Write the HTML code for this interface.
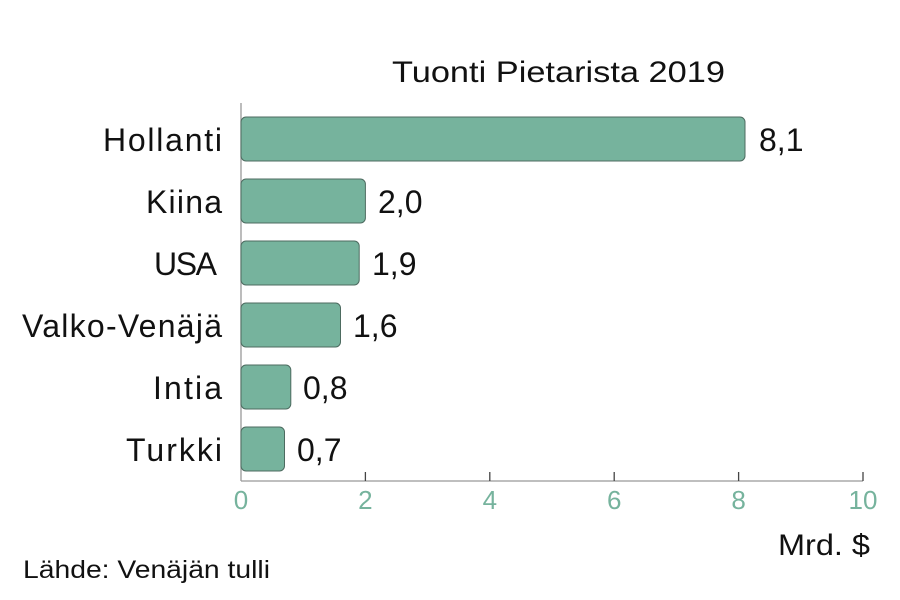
<!DOCTYPE html><html><head><meta charset="utf-8"><style>body{margin:0;background:#fff}svg{display:block}text{font-family:"Liberation Sans",sans-serif}</style></head><body>
<svg width="900" height="600" viewBox="0 0 900 600">
<text x="392" y="82" font-size="30" fill="#111" textLength="333" lengthAdjust="spacingAndGlyphs">Tuonti Pietarista 2019</text>
<line x1="241" y1="103" x2="241" y2="481" stroke="#999" stroke-width="1.3"/>
<line x1="241" y1="481" x2="863" y2="481" stroke="#999" stroke-width="1.3"/>
<g stroke="#444" stroke-width="1.3">
<line x1="365.4" y1="472" x2="365.4" y2="481"/><line x1="489.8" y1="472" x2="489.8" y2="481"/><line x1="614.2" y1="472" x2="614.2" y2="481"/><line x1="738.6" y1="472" x2="738.6" y2="481"/><line x1="863" y1="472" x2="863" y2="481"/>
</g>
<g fill="#76b39d" font-size="26" text-anchor="middle">
<text x="241" y="509">0</text><text x="365.4" y="509">2</text><text x="489.8" y="509">4</text><text x="614.2" y="509">6</text><text x="738.6" y="509">8</text><text x="863" y="509">10</text>
</g>
<g fill="#76b39d" stroke="#4d6b60" stroke-width="1">
<rect x="241" y="117" width="504" height="44" rx="5"/>
<rect x="241" y="179" width="124.4" height="44" rx="5"/>
<rect x="241" y="241" width="118.2" height="44" rx="5"/>
<rect x="241" y="303" width="99.5" height="44" rx="5"/>
<rect x="241" y="365" width="49.8" height="44" rx="5"/>
<rect x="241" y="427" width="43.5" height="44" rx="5"/>
</g>
<g font-size="32" fill="#111" lengthAdjust="spacingAndGlyphs">
<text x="103" y="151" textLength="119">Hollanti</text><text x="146" y="213" textLength="76">Kiina</text><text x="154" y="275" textLength="63">USA</text><text x="22" y="337" textLength="200">Valko-Venäjä</text><text x="153" y="399" textLength="69">Intia</text><text x="126" y="461" textLength="96">Turkki</text>
</g>
<g font-size="32" fill="#111">
<text x="759" y="151">8,1</text><text x="378" y="213">2,0</text><text x="372" y="275">1,9</text><text x="353" y="337">1,6</text><text x="303" y="399">0,8</text><text x="297" y="461">0,7</text>
</g>
<text x="778" y="555" font-size="30" fill="#111" textLength="92" lengthAdjust="spacingAndGlyphs">Mrd. $</text>
<text x="23" y="578" font-size="25" fill="#111" textLength="247" lengthAdjust="spacingAndGlyphs">Lähde: Venäjän tulli</text>
</svg></body></html>
